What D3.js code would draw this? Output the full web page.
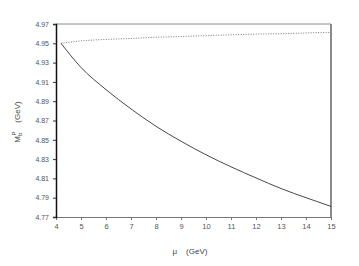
<!DOCTYPE html>
<html>
<head>
<meta charset="utf-8">
<script src="https://cdn.jsdelivr.net/npm/d3@7"></script>
<style>
  body { margin: 0; background: #fff; }
  svg text { font-family: "Liberation Sans", Arial, sans-serif; }
</style>
</head>
<body>
<div id="chart"></div>
<script>
// values
var muSolid = [4.2, 5, 6, 7, 8, 9, 10, 11, 12, 13, 14, 15];
var massSolid = [4.950, 4.925, 4.902, 4.882, 4.864, 4.8485, 4.8345, 4.822, 4.8105, 4.7995, 4.790, 4.781];
var muDotted = [4.2, 5, 6, 7, 8, 9, 10, 11, 12, 13, 14, 15];
var massDotted = [4.950, 4.9525, 4.954, 4.955, 4.9563, 4.957, 4.958, 4.9588, 4.9595, 4.960, 4.9607, 4.9614];
var xTicks = [4, 5, 6, 7, 8, 9, 10, 11, 12, 13, 14, 15];
var yTicks = [4.77, 4.79, 4.81, 4.83, 4.85, 4.87, 4.89, 4.91, 4.93, 4.95, 4.97];

var svgWidth = 359, svgHeight = 266;
var margin = { top: 24, right: 28, bottom: 49, left: 56 };
var width = svgWidth - margin.left - margin.right;
var height = svgHeight - margin.top - margin.bottom;

var svg = d3.select("#chart").append("svg")
    .attr("width", svgWidth)
    .attr("height", svgHeight);

var g = svg.append("g").attr("transform", "translate(" + margin.left + "," + margin.top + ")");

var x = d3.scaleLinear().domain([4, 15]).range([0, width]);
var y = d3.scaleLinear().domain([4.77, 4.97]).range([height, 0]);

// top and right frame lines
g.append("line")
    .attr("x1", 0).attr("x2", width)
    .attr("y1", 0).attr("y2", 0)
    .attr("stroke", "#8a8a8a").attr("stroke-width", 1);
g.append("line")
    .attr("x1", width).attr("x2", width)
    .attr("y1", 0).attr("y2", height)
    .attr("stroke", "#8a8a8a").attr("stroke-width", 2);

// x axis
var xAxis = g.append("g")
    .attr("transform", "translate(0," + height + ")")
    .call(d3.axisBottom(x).tickValues(xTicks).tickSize(3).tickPadding(4).tickFormat(d3.format("d")));
xAxis.select(".domain").attr("stroke", "#777");
xAxis.selectAll(".tick line").attr("stroke", "#777");
xAxis.selectAll(".tick text").attr("fill", "#555").style("font-size", "7.5px");

// y axis
var yAxis = g.append("g")
    .call(d3.axisLeft(y).tickValues(yTicks).tickSize(3).tickPadding(4).tickFormat(d3.format(".2f")));
yAxis.select(".domain").attr("stroke", "#111").attr("stroke-width", 1.5);
yAxis.selectAll(".tick line").attr("stroke", "#333");
yAxis.selectAll(".tick text").attr("fill", "#555").style("font-size", "7px");

var line = d3.line()
    .x(function (d) { return x(d[0]); })
    .y(function (d) { return y(d[1]); })
    .curve(d3.curveMonotoneX);

g.append("path")
    .attr("fill", "none")
    .attr("stroke", "#777")
    .attr("stroke-width", 1)
    .attr("stroke-dasharray", "1,1.5")
    .attr("d", line(d3.zip(muDotted, massDotted)));

g.append("path")
    .attr("fill", "none")
    .attr("stroke", "#333")
    .attr("stroke-width", 0.9)
    .attr("d", line(d3.zip(muSolid, massSolid)));

// axis titles
svg.append("text")
    .attr("x", 190).attr("y", 254)
    .attr("text-anchor", "middle")
    .attr("fill", "#444")
    .style("font-size", "8px")
    .attr("xml:space", "preserve")
    .text("\u03bc    (GeV)");

var yt = svg.append("text")
    .attr("transform", "translate(20,122) rotate(-90)")
    .attr("text-anchor", "middle")
    .attr("fill", "#444")
    .style("font-size", "8px");
yt.append("tspan").text("M");
yt.append("tspan").attr("dy", 2).style("font-size", "6px").text("b");
yt.append("tspan").attr("dy", -6).attr("dx", -3).style("font-size", "6px").text("P");
yt.append("tspan").attr("dy", 4).attr("xml:space", "preserve").text("    (GeV)");
</script>
</body>
</html>
